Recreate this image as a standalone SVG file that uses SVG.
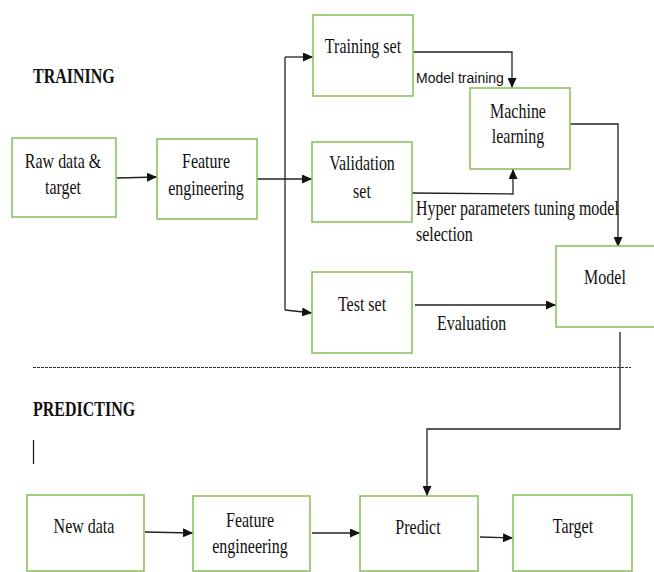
<svg xmlns="http://www.w3.org/2000/svg" width="654" height="572" viewBox="0 0 654 572">
<style>
.box{fill:#fff;stroke:#8dc262;stroke-width:1.6}
.t{font-family:'Liberation Serif','Times New Roman','DejaVu Serif',serif;font-size:16px;fill:#111;text-anchor:middle}
.l{font-family:'Liberation Serif','Times New Roman','DejaVu Serif',serif;font-size:16px;fill:#111}
.h{font-family:'Liberation Serif','Times New Roman','DejaVu Serif',serif;font-size:16px;font-weight:bold;fill:#111}
.s{font-family:'Liberation Sans',Arial,sans-serif;font-size:14px;fill:#111}
.c{fill:none;stroke:#222;stroke-width:1.3}
.a{marker-end:url(#arr)}
</style>
<defs>
<marker id="arr" markerUnits="userSpaceOnUse" markerWidth="10" markerHeight="9" refX="10" refY="4.5" orient="auto">
<path d="M0,0 L10,4.5 L0,9 z" fill="#111"/>
</marker>
</defs>
<rect width="654" height="572" fill="#fff"/>

<text class="h" font-family="Liberation Serif" transform="translate(33,83) scale(1,1.35)">TRAINING</text>
<text class="h" font-family="Liberation Serif" transform="translate(33,416) scale(1,1.35)">PREDICTING</text>
<line x1="33.5" y1="440" x2="33.5" y2="464" stroke="#111" stroke-width="1.2"/>
<line x1="33" y1="367.5" x2="631" y2="367.5" stroke="#333" stroke-width="1" stroke-dasharray="3,1"/>

<g id="connectors">
<path class="c a" d="M117,178 L157,177"/>
<path class="c a" d="M257,179 L312,179"/>
<path class="c" d="M285,57 V310"/>
<path class="c a" d="M285,57 H313"/>
<path class="c a" d="M285,310 L312,313"/>
<path class="c a" d="M413,52 H512 V88"/>
<path class="c a" d="M412,193 L513,194 V169"/>
<path class="c a" d="M570,124 H618 V247"/>
<path class="c a" d="M415,305 H556"/>
<path class="c a" d="M620,332 V429 H427 V496"/>
<path class="c a" d="M145,532 L193,533"/>
<path class="c a" d="M312,533 L360,533"/>
<path class="c a" d="M480,537 L513,538"/>
</g>
<text class="s" transform="translate(416,83) scale(1,1.1)">Model training</text>
<text class="l" transform="translate(416,215) scale(1,1.33)">Hyper parameters tuning model</text>
<text class="l" transform="translate(416,241) scale(1,1.33)">selection</text>
<text class="l" transform="translate(437,330) scale(1,1.33)">Evaluation</text>

<g id="raw-data">
<rect class="box" x="12" y="138" width="104" height="79"/>
<text class="t" transform="translate(63,168) scale(1,1.33)">Raw data &amp;</text>
<text class="t" transform="translate(63,194) scale(1,1.33)">target</text>
</g>
<g id="feature-engineering">
<rect class="box" x="157" y="139" width="100" height="80"/>
<text class="t" transform="translate(206,168) scale(1,1.33)">Feature</text>
<text class="t" transform="translate(206,195) scale(1,1.33)">engineering</text>
</g>
<g id="training-set">
<rect class="box" x="313" y="15" width="100" height="81"/>
<text class="t" transform="translate(363,53) scale(1,1.33)">Training set</text>
</g>
<g id="validation-set">
<rect class="box" x="312" y="142" width="100" height="80"/>
<text class="t" transform="translate(362,170) scale(1,1.33)">Validation</text>
<text class="t" transform="translate(362,198) scale(1,1.33)">set</text>
</g>
<g id="test-set">
<rect class="box" x="312" y="272" width="100" height="81"/>
<text class="t" transform="translate(362,311) scale(1,1.33)">Test set</text>
</g>
<g id="machine-learning">
<rect class="box" x="470" y="88" width="100" height="81"/>
<text class="t" transform="translate(518,118) scale(1,1.33)">Machine</text>
<text class="t" transform="translate(518,143) scale(1,1.33)">learning</text>
</g>
<g id="model">
<rect class="box" x="556" y="246" width="110" height="81"/>
<text class="t" transform="translate(605,284) scale(1,1.33)">Model</text>
</g>
<g id="new-data">
<rect class="box" x="27" y="495" width="117" height="76"/>
<text class="t" transform="translate(84,533) scale(1,1.33)">New data</text>
</g>
<g id="feature-engineering-2">
<rect class="box" x="193" y="496" width="117" height="75"/>
<text class="t" transform="translate(250,527) scale(1,1.33)">Feature</text>
<text class="t" transform="translate(250,553) scale(1,1.33)">engineering</text>
</g>
<g id="predict">
<rect class="box" x="360" y="496" width="118" height="75"/>
<text class="t" transform="translate(418,534) scale(1,1.33)">Predict</text>
</g>
<g id="target">
<rect class="box" x="513" y="495" width="119" height="76"/>
<text class="t" transform="translate(573,533) scale(1,1.33)">Target</text>
</g>
</svg>
